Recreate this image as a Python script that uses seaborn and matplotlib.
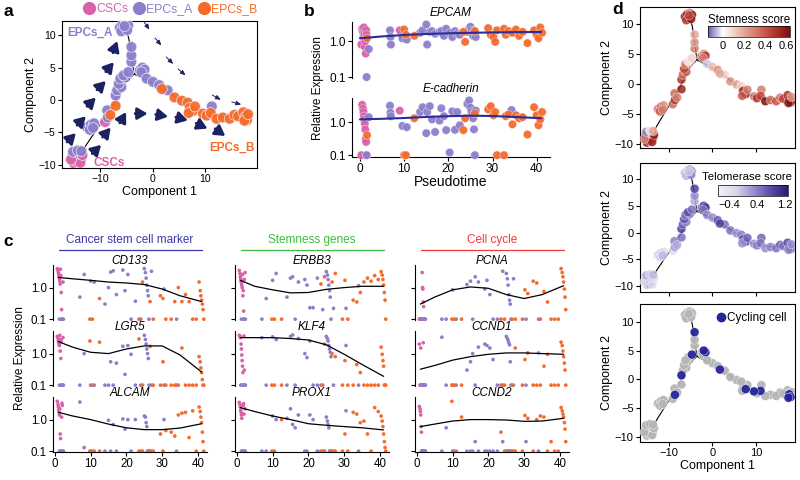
import numpy as np
import pandas as pd
import matplotlib
matplotlib.use("Agg")
import matplotlib.pyplot as plt
from matplotlib.colors import LinearSegmentedColormap, Normalize
from matplotlib.cm import ScalarMappable
from matplotlib.lines import Line2D
from matplotlib.transforms import offset_copy
import seaborn as sns

# ------------------------------------------------------------------ data
CELL_TYPES = ["CSCs", "EPCs_A", "EPCs_B"]
TYPE_COLORS = ["#d862aa", "#8b7fcb", "#f56b2b"]

# panel a / d : cells in the reduced space
A_X = [-15.3, -14.8, -14.2, -13.6, -15.0, -14.4, -13.8, -15.6, -14.0, -13.4, -9.1,
       -15.2, -14.3, -13.6,
       -12.5, -11.8, -11.2, -12.0, -11.4,
       -8.7, -8.6, -8.1, -7.1,
       -7.1, -6.8, -6.0, -6.5, -6.2, -5.2, -5.6, -4.7,
       -4.1, -4.1, -4.1,
       -6.3, -5.8, -5.2, -4.7, -5.5, -6.0, -4.9, -5.4,
       -2.5, -2.0, -1.6, -2.2,
       -1.2, 0.0, 1.2, 2.8, 11.2,
       1.7, 4.1, 5.5, 6.6, 7.0, 7.6, 6.8, 8.0, 9.5, 10.2, 11.0, 12.1, 13.3, 14.6, 15.5,
       16.2, 17.2, 17.6, 17.9, 17.4, 18.1]
A_Y = [-8.6, -9.2, -8.8, -9.0, -9.8, -9.6, -9.7, -9.2, -8.3, -8.5, -3.4,
       -8.0, -7.8, -7.9,
       -4.2, -3.8, -3.6, -4.6, -4.3,
       -1.6, -2.7, -2.3, -0.9,
       0.7, 1.5, 2.0, 2.5, 3.3, 3.5, 3.8, 4.3,
       5.9, 6.9, 8.2,
       11.2, 11.6, 11.8, 11.5, 10.9, 10.6, 10.8, 11.4,
       4.6, 5.0, 4.7, 4.3,
       3.3, 2.8, 2.3, 1.5, -1.0,
       1.7, 0.4, -0.1, -0.4, -1.2, -1.7, -2.0, -1.0, -2.1, -2.4, -2.0, -2.9, -2.7, -2.9, -2.3,
       -2.5, -1.9, -2.6, -3.1, -3.2, -2.2]
A_TYPE = (["CSCs"] * 11 + ["EPCs_A"] * 10 + ["EPCs_B"] * 2
          + ["EPCs_A"] * 28 + ["EPCs_B"] * 21)

D_STEM = [0.6, 0.55, -0.1, 0.5, 0.6, 0.45, 0.55, 0.3, -0.05, 0.6, 0.35,
          -0.1, 0.05, 0.2,
          0.3, 0.35, 0.25, 0.4, 0.3,
          0.35, 0.5, 0.3, 0.55,
          0.5, 0.35, 0.4, 0.45, 0.3, 0.15, 0.05, 0.1,
          0.3, 0.25, 0.2,
          0.6, 0.55, 0.3, 0.6, -0.1, 0.5, 0.6, 0.45,
          0.4, 0.25, 0.5, 0.3,
          -0.05, 0.15, 0.25, 0.1, 0.3,
          0.2, 0.25, 0.2, 0.1, 0.55, 0.6, 0.4, 0.3, 0.3, 0.5, 0.45, 0.62, 0.35, 0.4, 0.3,
          0.45, 0.5, 0.6, 0.62, 0.6, 0.25]
D_TELO = [-0.3, -0.2, 0.2, -0.4, -0.1, 0.3, -0.3, -0.2, 0.1, -0.4, -0.3,
          0.1, -0.2, 0.0,
          -0.2, -0.1, -0.3, -0.2, 0.0,
          0.4, 0.2, 0.1, 0.5,
          0.9, 0.6, 0.4, 0.7, 0.5, 0.3, 0.8, 0.5,
          0.1, 0.3, 0.9,
          0.0, -0.2, 0.2, 0.1, -0.3, 0.0, 0.4, -0.1,
          0.6, 0.9, 1.0, 0.5,
          0.4, 0.3, 0.7, 0.5, 0.6,
          0.9, 0.5, 0.3, 0.4, 0.7, 0.9, 0.3, 0.6, 0.3, 0.4, 0.5, 0.3, 0.4, 0.5, 0.6,
          0.5, 0.8, 0.9, 0.6, 0.4, 0.3]
D_CYCLE = [0, 0, 0, 0, 0, 0, 0, 0, 0, 0, 0,
           0, 0, 0,
           0, 0, 0, 0, 0,
           0, 1, 0, 0,
           1, 0, 0, 0, 0, 0, 0, 1,
           0, 0, 1,
           0, 0, 0, 0, 0, 0, 0, 0,
           0, 1, 1, 0,
           0, 0, 0, 0, 0,
           1, 0, 0, 0, 0, 1, 0, 0, 1, 0, 1, 0, 0, 0, 0,
           0, 0, 1, 1, 1, 0]

# trajectory tree
TRAJ_MAIN_X = [-13.8, -11.5, -9.0, -7.2, -5.8, -3.6, -4.0, -4.6, -5.3]
TRAJ_MAIN_Y = [-8.3, -5.5, -2.5, -0.2, 2.2, 4.0, 6.5, 9.5, 11.5]
TRAJ_B_X = [-3.6, -1.5, 1.0, 3.5, 6.5, 9.0, 12.0, 15.0, 18.0]
TRAJ_B_Y = [4.0, 3.2, 2.2, 0.9, -0.8, -2.0, -2.6, -2.6, -2.5]
TRAJ_STUB_X = [-3.6, -2.2]
TRAJ_STUB_Y = [4.0, 4.6]

# arrows drawn on panel a
BIG_ARROW_X = [-15.5, -13.6, -11.7, -9.8, -8.2, -7.2, -10.7, -8.8, -5.7, -2.2, 1.7, 5.5, 9.3, 12.8]
BIG_ARROW_Y = [-5.8, -3.2, -0.3, 2.25, 5.1, 8.2, -7.6, -5.0, -2.7, -2.1, -2.4, -2.9, -4.0, -5.0]
BIG_ARROW_ANGLE = [45, 45, 45, 45, 50, 70, 45, 50, 60, 0, -10, -15, -25, -35]
SMALL_ARROW_X = [-1.2, 1.0, 3.2, 5.5, 12.1, 15.9]
SMALL_ARROW_Y = [11.5, 9.0, 6.1, 4.3, 0.4, -0.5]
SMALL_ARROW_ANGLE = [-55, -50, -45, -40, -30, -15]

# panel b : qPCR cells along pseudotime
B_TIME = [0.3, 0.5, 0.7, 0.8, 0.9, 1.0, 1.1, 1.2, 1.3, 1.4, 1.5, 9.0,
          1.5, 2.0, 6.8, 6.9, 7.0, 9.6, 10.6, 13.6, 14.2, 15.0, 15.2, 15.8, 16.3, 17.0, 18.0,
          18.4, 19.0, 19.5, 20.3, 20.9, 21.5, 22.0, 22.6, 24.3, 24.7, 25.0, 25.2, 25.4, 25.6,
          25.8, 26.0, 26.2, 34.3,
          1.6, 10.0, 10.4, 12.3, 23.4, 23.8, 26.0, 29.0, 29.6, 30.2, 30.6, 31.0, 32.6, 33.0,
          33.6, 34.5, 35.3, 36.0, 36.8, 37.9, 39.4, 40.0, 40.4, 40.8, 41.2]
B_TYPE = ["CSCs"] * 12 + ["EPCs_A"] * 33 + ["EPCs_B"] * 25
B_EPCAM = [0.8, 2.2, 1.8, 1.3, 2.4, 1.6, 0.7, 1.0, 0.45, 2.0, 1.5, 2.0,
           0.1, 0.6, 2.0, 1.3, 0.8, 1.2, 1.1, 1.7, 2.0, 2.9, 0.8, 1.8, 1.9, 1.6, 1.8, 1.9,
           1.4, 2.2, 1.7, 1.3, 1.9, 1.6, 1.5, 1.8, 2.2, 2.5, 2.0, 1.6, 1.4, 1.9, 1.7, 1.3, 1.8,
           1.2, 2.1, 1.5, 1.4, 1.8, 0.95, 1.9, 2.3, 1.5, 1.3, 0.95, 2.0, 2.2, 1.5, 1.9, 1.7,
           2.1, 1.4, 1.8, 0.88, 2.0, 1.5, 1.2, 2.4, 1.7]
B_ECAD = [0.1, 3.3, 2.5, 2.0, 1.5, 1.2, 0.9, 0.6, 0.3, 0.25, 0.1, 2.2,
          0.1, 1.4, 3.1, 1.9, 1.5, 0.76, 0.7, 2.0, 2.8, 0.46, 2.0, 3.0, 1.2, 0.5, 1.1, 2.6,
          1.5, 0.57, 0.12, 2.1, 0.58, 2.0, 0.8, 3.5, 4.5, 2.7, 2.0, 1.6, 1.3, 0.6, 0.1, 2.2, 2.3,
          0.4, 0.1, 0.1, 1.3, 0.57, 1.3, 1.8, 2.4, 3.0, 1.6, 2.0, 0.1, 0.1, 1.5, 1.7, 0.85,
          1.6, 1.3, 1.4, 0.42, 2.8, 1.6, 0.8, 1.2, 2.0]
B_CURVE_T = [0, 5, 10, 15, 20, 25, 30, 35, 41]
B_CURVE_EPCAM = [1.2, 1.35, 1.48, 1.58, 1.65, 1.7, 1.74, 1.77, 1.8]
B_CURVE_ECAD = [1.2, 1.25, 1.32, 1.42, 1.5, 1.55, 1.52, 1.42, 1.3]

# panel c : single cells along pseudotime
C_TIME = [0.7, 0.9, 1.0, 1.1, 1.2, 1.3, 1.4, 1.5, 1.6, 1.7, 1.8, 1.9, 2.0, 2.1, 2.3,
          1.3, 1.9, 2.4, 7.0, 8.2, 10.0, 11.0, 14.0, 15.0, 15.6, 16.3, 17.2, 19.0, 19.6,
          20.4, 21.3, 22.5, 24.0, 25.0, 25.3, 25.5, 25.7, 25.9, 26.1, 26.3, 27.0, 30.5, 34.0,
          9.8, 10.5, 12.5, 23.5, 24.5, 26.6, 27.5, 29.5, 30.2, 31.0, 32.5, 33.5, 34.5, 35.5,
          36.5, 37.5, 38.5, 39.5, 40.3, 40.6, 40.8, 41.0, 41.2, 41.4, 41.6]
C_TYPE = ["CSCs"] * 15 + ["EPCs_A"] * 28 + ["EPCs_B"] * 25

CD133 = [4.0, 3.5, 3.0, 2.6, 2.2, 1.9, 1.6, 1.3, 3.8, 2.4, 0.7, 0.2, 0.1, 0.1, 1.5,
         0.1, 0.1, 0.1, 0.5, 2.6, 1.6, 1.5, 0.3, 1.0, 3.1, 3.4, 0.6, 3.6, 0.8, 2.6, 0.1, 0.37,
         0.1, 4.0, 3.0, 2.0, 1.2, 0.8, 0.55, 0.1, 3.3, 0.9, 0.1,
         0.1, 0.1, 0.45, 0.1, 1.5, 0.36, 0.1, 0.55, 0.45, 0.1, 0.1, 0.36, 1.0, 0.36, 0.6,
         0.36, 0.1, 0.1, 1.5, 0.8, 0.55, 0.4, 0.3, 0.2, 0.1]
LGR5 = [3.5, 3.0, 2.5, 2.2, 2.0, 1.8, 3.8, 1.2, 2.8, 0.7, 2.4, 0.1, 0.1, 0.1, 3.2,
        0.1, 0.1, 0.1, 0.1, 1.0, 0.1, 0.1, 0.1, 0.1, 0.55, 0.1, 0.5, 1.7, 0.22, 1.8, 0.95,
        0.1, 0.1, 3.8, 2.8, 2.0, 1.4, 1.0, 0.7, 0.1, 0.1, 0.1, 0.1,
        2.5, 0.1, 2.3, 2.9, 0.1, 1.7, 0.1, 0.1, 0.55, 0.1, 0.1, 0.1, 0.1, 1.5, 0.1, 0.1,
        0.1, 0.1, 0.8, 0.55, 0.35, 0.25, 0.15, 0.1, 0.1]
ALCAM = [3.8, 3.0, 2.5, 2.0, 1.7, 1.4, 2.2, 0.35, 0.25, 0.1, 0.1, 1.2, 3.3, 2.8, 0.1,
         0.1, 0.1, 0.1, 3.6, 0.13, 0.1, 0.1, 0.1, 0.95, 0.1, 0.7, 0.1, 1.05, 0.5, 1.0, 0.1,
         1.0, 0.1, 1.3, 1.2, 0.8, 0.6, 0.1, 0.1, 0.1, 0.1, 1.0, 0.1,
         0.1, 0.1, 0.1, 0.1, 0.1, 0.1, 0.1, 0.35, 0.1, 0.45, 0.4, 0.3, 1.4, 1.6, 1.7, 0.27,
         1.9, 0.1, 2.5, 1.8, 1.2, 0.8, 0.4, 0.2, 0.1]
ERBB3 = [3.5, 2.8, 2.2, 1.9, 1.6, 1.4, 1.2, 1.0, 2.6, 0.55, 0.8, 0.18, 0.1, 1.8, 3.0,
         0.1, 0.1, 0.1, 0.1, 0.45, 1.7, 2.8, 0.5, 2.0, 2.2, 0.1, 1.5, 1.8, 1.2, 0.23, 0.23,
         2.0, 0.2, 3.2, 2.5, 1.8, 1.2, 0.8, 0.5, 0.1, 0.22, 0.22, 1.15,
         0.1, 0.1, 0.1, 1.3, 2.2, 1.5, 2.8, 0.1, 1.7, 0.1, 0.4, 0.35, 0.7, 1.5, 2.0, 1.6,
         2.4, 1.8, 3.2, 2.5, 1.8, 1.2, 0.7, 0.4, 0.1]
KLF4 = [3.8, 3.5, 3.2, 0.1, 2.0, 1.4, 0.9, 0.6, 0.4, 0.25, 0.1, 0.1, 3.6, 0.3, 0.1,
        0.1, 0.1, 0.1, 3.2, 0.1, 3.4, 2.8, 0.1, 3.5, 3.9, 0.1, 3.0, 1.0, 0.75, 2.5, 0.1,
        0.1, 0.1, 3.5, 3.0, 2.5, 1.8, 1.4, 1.1, 0.8, 0.1, 1.8, 0.1,
        0.1, 0.1, 0.1, 0.1, 2.0, 1.0, 0.8, 0.1, 0.6, 0.1, 0.1, 0.45, 0.25, 0.1, 0.1, 0.1,
        0.1, 0.1, 1.6, 0.95, 0.6, 0.4, 0.1, 0.1, 0.1]
PROX1 = [3.5, 3.0, 2.5, 2.0, 1.7, 1.4, 1.1, 0.1, 0.1, 0.1, 2.8, 3.2, 1.5, 0.1, 2.2,
         0.1, 0.1, 0.1, 0.1, 0.1, 1.3, 1.0, 1.1, 2.2, 0.7, 0.55, 1.4, 0.1, 0.1, 1.4, 1.0,
         0.1, 0.1, 1.2, 0.9, 0.7, 0.55, 0.1, 0.1, 0.1, 0.1, 1.9, 0.1,
         0.1, 0.1, 1.0, 0.1, 0.1, 0.1, 0.1, 0.1, 0.35, 0.1, 1.7, 1.5, 0.8, 0.9, 0.35, 0.1,
         2.4, 1.8, 1.3, 0.9, 0.6, 0.35, 0.2, 0.13, 0.1]
PCNA = [0.1, 0.1, 0.1, 0.1, 0.1, 0.1, 0.1, 3.0, 1.0, 0.9, 0.35, 0.25, 0.1, 0.1, 0.1,
        0.1, 0.1, 0.1, 0.1, 0.1, 0.85, 0.1, 1.25, 1.6, 0.1, 2.2, 1.5, 0.9, 1.7, 0.6, 0.1,
        0.1, 3.3, 2.8, 1.9, 1.2, 0.6, 0.4, 0.3, 0.1, 1.9, 0.1, 0.1,
        0.1, 0.1, 0.1, 0.1, 0.1, 0.1, 0.1, 0.1, 0.85, 0.65, 1.6, 1.4, 0.1, 0.75, 0.35, 0.1,
        0.1, 0.1, 4.0, 3.0, 2.2, 1.5, 0.9, 0.5, 0.2]
CCND1 = [2.0, 0.1, 0.1, 1.5, 0.1, 0.1, 0.1, 0.1, 0.1, 0.1, 2.2, 0.1, 0.1, 0.1, 0.1,
         0.1, 0.1, 0.1, 3.3, 0.1, 0.1, 0.1, 0.3, 0.55, 1.0, 0.1, 1.6, 2.0, 1.8, 1.5, 0.65,
         0.1, 0.1, 3.5, 3.0, 2.6, 2.2, 1.9, 0.55, 0.1, 0.1, 0.1, 1.05,
         0.1, 0.1, 0.1, 0.1, 0.1, 0.1, 1.5, 0.1, 0.65, 1.05, 0.1, 0.1, 0.1, 0.4, 0.95, 0.1,
         0.1, 0.1, 2.3, 1.8, 1.2, 0.8, 0.5, 0.3, 0.1]
CCND2 = [2.6, 2.2, 1.8, 1.4, 0.6, 0.4, 0.1, 0.1, 0.1, 0.1, 0.1, 0.1, 0.1, 0.1, 0.1,
         0.1, 0.1, 0.1, 0.1, 0.55, 0.1, 0.1, 0.1, 0.1, 0.1, 0.2, 0.1, 0.1, 0.1, 0.1, 0.1,
         0.1, 0.2, 0.1, 0.1, 0.1, 0.1, 0.1, 0.1, 0.1, 0.1, 0.2, 0.1,
         3.8, 0.1, 1.2, 0.4, 0.1, 0.1, 0.1, 0.1, 1.35, 1.1, 0.1, 1.0, 1.3, 1.2, 0.1, 0.2,
         0.1, 0.1, 2.4, 1.9, 1.5, 1.2, 0.8, 0.5, 0.2]

C_CURVE_T = [1, 5, 10, 15, 20, 25, 30, 35, 41]
C_CURVES = {
    "CD133": [2.1, 1.9, 1.7, 1.5, 1.4, 1.25, 0.9, 0.55, 0.36],
    "LGR5": [2.4, 1.6, 1.1, 1.0, 1.4, 1.75, 1.75, 0.9, 0.26],
    "ALCAM": [1.7, 1.3, 1.0, 0.72, 0.55, 0.48, 0.48, 0.54, 0.74],
    "ERBB3": [1.7, 1.1, 0.85, 0.68, 0.7, 0.88, 1.0, 1.1, 1.1],
    "KLF4": [3.2, 3.2, 3.2, 3.0, 2.7, 1.9, 0.95, 0.45, 0.19],
    "PROX1": [2.4, 1.8, 1.3, 1.0, 0.74, 0.66, 0.6, 0.55, 0.47],
    "PCNA": [0.3, 0.5, 0.85, 1.05, 0.95, 0.6, 0.45, 0.6, 1.15],
    "CCND1": [0.32, 0.42, 0.62, 0.8, 0.95, 1.05, 1.05, 1.0, 0.95],
    "CCND2": [0.6, 0.72, 0.9, 1.0, 1.0, 0.97, 0.88, 0.9, 1.1],
}
C_GROUPS = ["Cancer stem cell marker", "Stemness genes", "Cell cycle"]
C_GROUP_COLORS = ["#3b37b0", "#3fbd3f", "#f03a3a"]
C_GENES = [["CD133", "LGR5", "ALCAM"], ["ERBB3", "KLF4", "PROX1"], ["PCNA", "CCND1", "CCND2"]]

# ------------------------------------------------------------------ style
sns.set_theme(style="ticks")
plt.rcParams["font.family"] = ["Liberation Sans", "DejaVu Sans"]
plt.rcParams.update({
    "axes.linewidth": 0.8, "axes.edgecolor": "black",
    "xtick.color": "black", "ytick.color": "black", "text.color": "black",
    "axes.labelcolor": "black",
    "xtick.major.size": 3, "ytick.major.size": 3,
    "xtick.major.width": 0.8, "ytick.major.width": 0.8,
    "xtick.major.pad": 1.5, "ytick.major.pad": 1.5,
})
palette = dict(zip(CELL_TYPES, TYPE_COLORS))
NAVY = "#1c2260"

fig = plt.figure(figsize=(8, 4.8), dpi=100)


def px_axes(left, top, right, bottom):
    return fig.add_axes([left / 800, 1 - bottom / 480, (right - left) / 800, (bottom - top) / 480])


def draw_arrow(ax, x, y, angle, length, style, lw):
    rad = np.deg2rad(angle)
    dx, dy = np.cos(rad) * length, np.sin(rad) * length
    tip = offset_copy(ax.transData, fig=fig, x=dx / 2, y=dy / 2, units="points")
    ax.annotate("", xy=(x, y), xycoords=tip, xytext=(-dx, -dy), textcoords="offset points",
                arrowprops=dict(arrowstyle=style, color=NAVY, lw=lw, shrinkA=0, shrinkB=0,
                                mutation_scale=10))


cells = pd.DataFrame({"c1": A_X, "c2": A_Y, "type": A_TYPE,
                      "stem": D_STEM, "telo": D_TELO, "cycling": D_CYCLE})


def draw_tree(ax, lw=0.8):
    for xs, ys in [(TRAJ_MAIN_X, TRAJ_MAIN_Y), (TRAJ_B_X, TRAJ_B_Y), (TRAJ_STUB_X, TRAJ_STUB_Y)]:
        sns.lineplot(x=xs, y=ys, sort=False, estimator=None, color="black", lw=lw, ax=ax)


# ------------------------------------------------------------------ panel a
ax_a = px_axes(62, 21, 257, 168)
draw_tree(ax_a)
sns.scatterplot(data=cells, x="c1", y="c2", hue="type", palette=palette, s=60,
                edgecolor="#f3eef8", linewidth=0.5, alpha=0.95, legend=False, ax=ax_a, zorder=3)
for x, y, ang in zip(BIG_ARROW_X, BIG_ARROW_Y, BIG_ARROW_ANGLE):
    draw_arrow(ax_a, x, y, ang, 9, "-|>,head_length=0.6,head_width=0.35", 2.0)
for x, y, ang in zip(SMALL_ARROW_X, SMALL_ARROW_Y, SMALL_ARROW_ANGLE):
    draw_arrow(ax_a, x, y, ang, 7, "-|>,head_length=0.3,head_width=0.13", 0.7)
ax_a.set_xlim(-17.3, 19.8)
ax_a.set_ylim(-10.5, 12.2)
ax_a.set_xticks([-10, 0, 10])
ax_a.set_yticks([-10, -5, 0, 5, 10])
ax_a.tick_params(labelsize=7.5)
ax_a.set_xlabel("Component 1", fontsize=9, labelpad=1)
ax_a.set_ylabel("Component 2", fontsize=9, labelpad=1)
ax_a.text(-12.0, 10.4, "EPCs_A", color=TYPE_COLORS[1], fontsize=8.5, fontweight="bold",
          ha="center", va="center")
ax_a.text(-11.4, -9.7, "CSCs", color=TYPE_COLORS[0], fontsize=8.5, fontweight="bold",
          ha="left", va="center")
ax_a.text(19.3, -7.4, "EPCs_B", color=TYPE_COLORS[2], fontsize=8.5, fontweight="bold",
          ha="right", va="center")
handles = [Line2D([], [], marker="o", ls="", color=c, markersize=8.5) for c in TYPE_COLORS]
ax_a.legend(handles, CELL_TYPES, loc="lower center", bbox_to_anchor=(0.55, 1.0), ncol=3,
            frameon=False, handletextpad=0.0, columnspacing=0.3, fontsize=8.8,
            labelcolor=TYPE_COLORS, borderaxespad=0.1, handlelength=1.2)

# ------------------------------------------------------------------ panel b
bdf = pd.DataFrame({"t": B_TIME, "type": B_TYPE, "EPCAM": B_EPCAM, "E-cadherin": B_ECAD})
ax_b1 = px_axes(352, 22, 550, 78)
ax_b2 = px_axes(352, 98, 550, 157)
for ax, gene, curve, ylim in [(ax_b1, "EPCAM", B_CURVE_EPCAM, (0.094, 3.4)),
                              (ax_b2, "E-cadherin", B_CURVE_ECAD, (0.088, 5.3))]:
    sns.scatterplot(data=bdf, x="t", y=gene, hue="type", palette=palette, s=36,
                    edgecolor="#f3eef8", linewidth=0.3, alpha=0.95, legend=False, ax=ax,
                    clip_on=False, zorder=3)
    sns.lineplot(x=B_CURVE_T, y=curve, color="#2c2d96", lw=1.5, ax=ax, zorder=4)
    ax.set_yscale("log")
    ax.set_ylim(*ylim)
    ax.set_xlim(-1.8, 43)
    ax.set_yticks([0.1, 1.0])
    ax.set_yticklabels(["0.1", "1.0"])
    ax.minorticks_off()
    ax.set_xticks([0, 10, 20, 30, 40])
    ax.tick_params(labelsize=8.5)
    ax.set_xlabel("")
    ax.set_ylabel("")
    sns.despine(ax=ax)
    ax.text(0.5, 1.05, gene, transform=ax.transAxes, ha="center", va="bottom",
            style="italic", fontsize=8.5)
ax_b1.spines["bottom"].set_visible(False)
ax_b1.tick_params(axis="x", bottom=False, labelbottom=False)
ax_b2.set_xlabel("Pseudotime", fontsize=10, labelpad=0)
fig.text(318 / 800, 1 - 88 / 480, "Relative Expression", rotation=90, ha="center",
         va="center", fontsize=8.5)

# ------------------------------------------------------------------ panel c
cdf = pd.DataFrame({"t": C_TIME, "type": C_TYPE, "CD133": CD133, "LGR5": LGR5,
                    "ALCAM": ALCAM, "ERBB3": ERBB3, "KLF4": KLF4, "PROX1": PROX1,
                    "PCNA": PCNA, "CCND1": CCND1, "CCND2": CCND2})
col_left = [53, 235, 415]
row_top = [265, 331, 397]
row_bot = [320, 386, 452]
for j, (group, gcolor, genes) in enumerate(zip(C_GROUPS, C_GROUP_COLORS, C_GENES)):
    for i, gene in enumerate(genes):
        ax = px_axes(col_left[j], row_top[i], col_left[j] + 154, row_bot[i])
        sns.scatterplot(data=cdf, x="t", y=gene, hue="type", palette=palette, s=7,
                        linewidth=0, legend=False, ax=ax, clip_on=False)
        sns.lineplot(x=C_CURVE_T, y=C_CURVES[gene], color="black", lw=0.9, ax=ax)
        ax.set_yscale("log")
        ax.set_ylim(0.094, 5.2)
        ax.set_xlim(-0.5, 42.5)
        ax.set_yticks([0.1, 1.0])
        ax.set_yticklabels(["0.1", "1.0"])
        ax.minorticks_off()
        ax.set_xticks([0, 10, 20, 30, 40])
        ax.tick_params(labelsize=8.3)
        ax.set_xlabel("")
        ax.set_ylabel("")
        sns.despine(ax=ax)
        if j > 0:
            ax.tick_params(axis="y", labelleft=False)
        if i < 2:
            ax.spines["bottom"].set_visible(False)
            ax.tick_params(axis="x", bottom=False, labelbottom=False)
        ax.text(0.5, 1.07, gene, transform=ax.transAxes, ha="center", va="center",
                style="italic", fontsize=8.5)
        if i == 0:
            ax.text(0.5, 1.45, group, transform=ax.transAxes, ha="center", va="center",
                    color=gcolor, fontsize=8.5)
            ax.plot([0.04, 0.97], [1.27, 1.27], transform=ax.transAxes, color=gcolor,
                    lw=0.9, clip_on=False)
fig.text(20 / 800, 1 - 358 / 480, "Relative Expression", rotation=90, ha="center",
         va="center", fontsize=8.5)

# ------------------------------------------------------------------ panel d
stem_cmap = LinearSegmentedColormap.from_list(
    "stem", [(0.0, "#6a5cad"), (0.18, "#ffffff"), (0.45, "#e2a393"),
             (0.75, "#c2473a"), (1.0, "#7e0b0b")])
telo_cmap = LinearSegmentedColormap.from_list(
    "telo", ["#f2f2f2", "#dcd6ec", "#9d8fd0", "#5b4aa8", "#261a7a"])
stem_norm = Normalize(-0.14, 0.63)
telo_norm = Normalize(-0.72, 1.28)

ax_d1 = px_axes(640, 7, 795, 148)
ax_d2 = px_axes(640, 163, 795, 292)
ax_d3 = px_axes(640, 304, 795, 442)

draw_tree(ax_d1)
sns.scatterplot(data=cells, x="c1", y="c2", hue="stem", palette=stem_cmap, hue_norm=stem_norm,
                s=42, edgecolor="#ffffff", linewidth=0.3, alpha=0.85, legend=False, ax=ax_d1,
                zorder=3)
draw_tree(ax_d2)
sns.scatterplot(data=cells, x="c1", y="c2", hue="telo", palette=telo_cmap, hue_norm=telo_norm,
                s=42, edgecolor="#ffffff", linewidth=0.3, alpha=0.85, legend=False, ax=ax_d2,
                zorder=3)
draw_tree(ax_d3)
sns.scatterplot(data=cells.sort_values("cycling"), x="c1", y="c2", hue="cycling",
                palette={0: "#b5b5b5", 1: "#25259a"}, s=42, edgecolor="#ffffff",
                linewidth=0.3, alpha=0.95, legend=False, ax=ax_d3, zorder=3)

for ax, ylim in [(ax_d1, (-10.7, 12.8)), (ax_d2, (-11.1, 13.0)), (ax_d3, (-10.9, 13.1))]:
    ax.set_xlim(-16.6, 18.9)
    ax.set_ylim(*ylim)
    ax.set_xticks([-10, 0, 10])
    ax.set_yticks([-10, -5, 0, 5, 10])
    ax.tick_params(labelsize=8)
    ax.set_ylabel("Component 2", fontsize=9, labelpad=1)
    ax.set_xlabel("")
for ax in (ax_d1, ax_d2):
    ax.tick_params(axis="x", labelbottom=False)
ax_d3.set_xlabel("Component 1", fontsize=9, labelpad=1)

cax1 = px_axes(708, 26, 790, 37)
cb1 = fig.colorbar(ScalarMappable(norm=stem_norm, cmap=stem_cmap), cax=cax1,
                   orientation="horizontal", ticks=[0, 0.2, 0.4, 0.6])
cb1.ax.set_xticklabels(["0", "0.2", "0.4", "0.6"])
cb1.ax.tick_params(labelsize=8, length=2, pad=1, color="white")
cb1.outline.set_linewidth(0.5)
cax1.set_title("Stemness score", fontsize=8.3, pad=2)

cax2 = px_axes(718, 185, 788, 196)
cb2 = fig.colorbar(ScalarMappable(norm=telo_norm, cmap=telo_cmap), cax=cax2,
                   orientation="horizontal", ticks=[-0.4, 0.4, 1.2])
cb2.ax.set_xticklabels(["\u22120.4", "0.4", "1.2"])
cb2.ax.tick_params(labelsize=8, length=2, pad=1, color="white")
cb2.outline.set_linewidth(0.5)
cax2.text(1.05, 1.25, "Telomerase score", transform=cax2.transAxes, ha="right", va="bottom",
          fontsize=8.2)

ax_d3.legend([Line2D([], [], marker="o", ls="", color="#25259a", markersize=6)],
             ["Cycling cell"], loc="upper right", frameon=False, handletextpad=0.0,
             fontsize=8.5, borderaxespad=0.3, handlelength=1.0)

# ------------------------------------------------------------------ panel letters
for letter, x, y in [("a", 4, 12), ("b", 304, 11), ("c", 3, 241), ("d", 612, 10)]:
    fig.text(x / 800, 1 - y / 480, letter, fontsize=12.5, fontweight="bold", va="center")

fig.savefig("out.png", dpi=100)
